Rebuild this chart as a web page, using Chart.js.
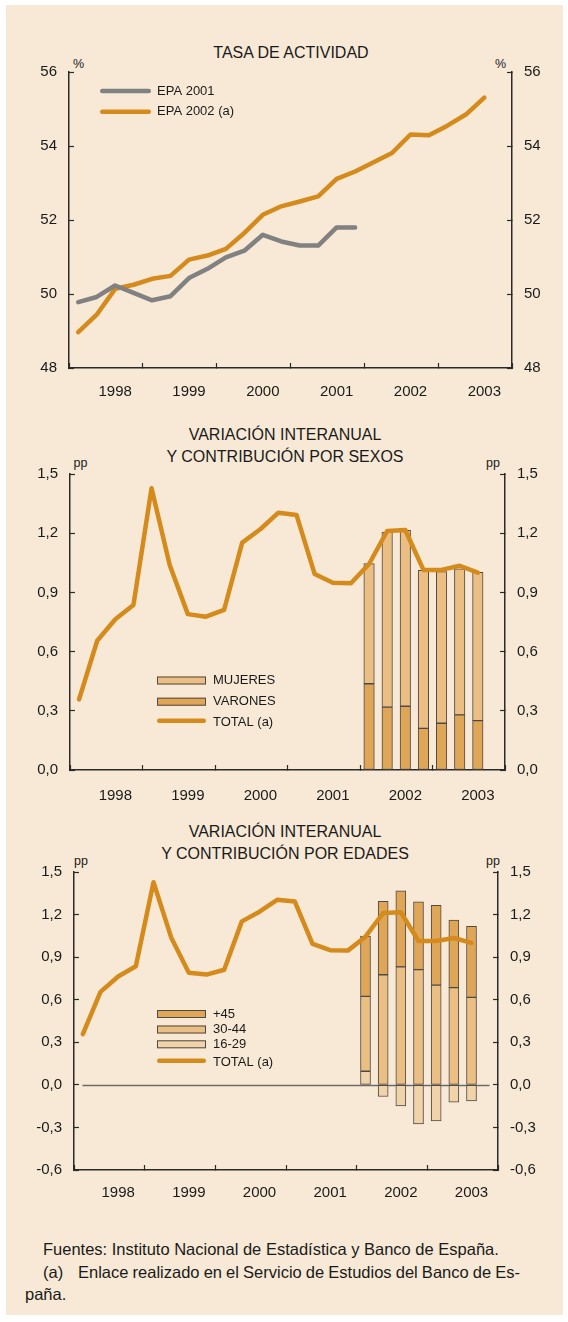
<!DOCTYPE html>
<html><head><meta charset="utf-8">
<script src="https://cdn.jsdelivr.net/npm/chart.js@4/dist/chart.umd.min.js"></script>
<style>
html,body{margin:0;padding:0;background:#fff;}
body{width:568px;height:1322px;position:relative;overflow:hidden;font-family:'Liberation Sans',Arial,Helvetica,sans-serif;color:#1a1a1a;}
#panel{position:absolute;left:6px;top:5px;width:557px;height:1310px;background:#F7E9D6;}
.wrap{position:absolute;left:0;width:568px;}
.t{position:absolute;transform:translate(-50%,-50%);white-space:nowrap;line-height:1;}
.title{font-size:16px;}
.unit{font-size:12.5px;}
#foot{position:absolute;left:25px;top:1238px;width:495px;font-size:16.5px;line-height:22.5px;}
#foot .ind{text-indent:18px;white-space:nowrap;}
</style></head>
<body>
<div id="panel"></div>

<div class="t title" style="left:291px;top:53px">TASA DE ACTIVIDAD</div>
<div class="t unit" style="left:78.5px;top:63.5px">%</div>
<div class="t unit" style="left:500.5px;top:63.5px">%</div>
<div class="wrap" style="top:0;height:408px"><canvas id="c1" width="568" height="408"></canvas></div>

<div class="t title" style="left:285px;top:435px">VARIACIÓN INTERANUAL</div>
<div class="t title" style="left:285px;top:457px">Y CONTRIBUCIÓN POR SEXOS</div>
<div class="t unit" style="left:80.5px;top:463px">pp</div>
<div class="t unit" style="left:493px;top:463px">pp</div>
<div class="wrap" style="top:410px;height:400px"><canvas id="c2" width="568" height="400"></canvas></div>

<div class="t title" style="left:285px;top:832px">VARIACIÓN INTERANUAL</div>
<div class="t title" style="left:285px;top:854px">Y CONTRIBUCIÓN POR EDADES</div>
<div class="t unit" style="left:81px;top:861px">pp</div>
<div class="t unit" style="left:493px;top:861px">pp</div>
<div class="wrap" style="top:810px;height:400px"><canvas id="c3" width="568" height="400"></canvas></div>

<div id="foot">
<div class="ind">Fuentes: Instituto Nacional de Estadística y Banco de España.</div>
<div class="ind"><span style="display:inline-block;width:35px;text-indent:0">(a)</span><span id="l2txt">Enlace realizado en el Servicio de Estudios del Banco de Es-</span></div>
<div>paña.</div>
</div>

<script>
// ---------- DATA ----------
const years = ['1998', '1999', '2000', '2001', '2002', '2003'];
const quarters = [
  '1998 I','1998 II','1998 III','1998 IV',
  '1999 I','1999 II','1999 III','1999 IV',
  '2000 I','2000 II','2000 III','2000 IV',
  '2001 I','2001 II','2001 III','2001 IV',
  '2002 I','2002 II','2002 III','2002 IV',
  '2003 I','2003 II','2003 III'
];
// Tasa de actividad (%)
const epa2001 = [49.78, 49.92, 50.23, 50.03, 49.83, 49.94, 50.43, 50.68, 50.99, 51.17, 51.60, 51.42, 51.31, 51.31, 51.80, 51.80];
const epa2002 = [48.97, 49.44, 50.14, 50.25, 50.41, 50.49, 50.93, 51.04, 51.22, 51.65, 52.14, 52.37, 52.50, 52.64, 53.11, 53.31, 53.56, 53.81, 54.31, 54.29, 54.55, 54.85, 55.31];
// Variación interanual total (pp)
const totalVar = [0.358, 0.655, 0.764, 0.836, 1.428, 1.039, 0.790, 0.777, 0.811, 1.152, 1.220, 1.304, 1.292, 0.993, 0.949, 0.946, 1.044, 1.211, 1.216, 1.014, 1.014, 1.035, 1.000];
// Contributions (2002 I - 2003 III)
const barQuarters = ['2002 I','2002 II','2002 III','2002 IV','2003 I','2003 II','2003 III'];
const varones = [0.437, 0.319, 0.323, 0.211, 0.237, 0.279, 0.250];
const mujeres = [0.609, 0.887, 0.892, 0.801, 0.768, 0.740, 0.752];
const edad16_29 = [0.096, -0.082, -0.148, -0.275, -0.254, -0.122, -0.113];
const edad30_44 = [0.527, 0.776, 0.831, 0.812, 0.703, 0.685, 0.616];
const edad45 = [0.426, 0.518, 0.536, 0.478, 0.563, 0.477, 0.502];

// ---------- STYLE ----------
const FONT = "'Liberation Sans', Arial, Helvetica, sans-serif";
const TXT = '#1a1a1a';
const AXIS = '#2a2a2a';
const ORANGE = '#D58A1C';
const GRAY = '#818181';
const C_DARK = '#E0A657';
const C_MID = '#EBBE83';
const C_LIGHT = '#F1D3AA';
const BAR_BORDER = '#4e4a45';

// justify footnote line 2 to end at x=520
(function () {
  const s = document.getElementById('l2txt');
  const r = s.getBoundingClientRect().right;
  const gaps = (s.textContent.match(/ /g) || []).length;
  s.style.wordSpacing = ((520 - r) / gaps) + 'px';
})();

Chart.defaults.font.family = FONT;
Chart.defaults.color = TXT;
Chart.defaults.animation = false;

const qx = (label) => quarters.indexOf(label) + 0.5;
const seriesPts = (vals) => vals.map((v, i) => ({x: qx(quarters[i]), y: v}));
const barPts = (vals) => vals.map((v, i) => ({x: qx(barQuarters[i]), y: v}));
const fmtPP = (v) => (Math.round(v * 10) / 10).toFixed(1).replace('.', ',').replace('-0,0', '0,0');
const isLabelTick = (v) => Math.abs((v % 4) - 2.5) < 1e-9;

function xScale(pad) {
  return {
    type: 'linear', min: 0, max: years.length * 4, offset: false, stacked: true,
    afterBuildTicks: (s) => {
      const t = [];
      for (let i = 0; i <= years.length; i++) t.push({value: i * 4});
      years.forEach((y, i) => t.push({value: i * 4 + 2.5}));
      t.sort((a, b) => a.value - b.value);
      s.ticks = t;
    },
    ticks: {
      autoSkip: false, maxRotation: 0, padding: pad, color: TXT, font: {size: 15},
      callback: (v) => (isLabelTick(v) ? years[(v - 2.5) / 4] : '')
    },
    grid: {
      drawOnChartArea: false, offset: false, tickLength: -5, tickWidth: 1.2,
      tickColor: (c) => (c.tick && c.tick.value % 4 === 0 ? AXIS : 'rgba(0,0,0,0)')
    },
    border: {display: true, color: AXIS, width: 1.5},
    afterFit: (s) => { s.height = 40; }
  };
}
function yScale(pos, min, max, step, fmt, w, stacked) {
  return {
    type: 'linear', position: pos, min: min, max: max, stacked: !!stacked,
    ticks: {stepSize: step, padding: 17, color: TXT, font: {size: 15}, callback: fmt},
    grid: {drawOnChartArea: false, tickLength: -5, tickWidth: 1.2, tickColor: AXIS},
    border: {display: true, color: AXIS, width: 1.5},
    afterFit: (s) => { s.width = w; }
  };
}

const customLegend = {
  id: 'customLegend',
  afterDatasetsDraw(chart, args, o) {
    const ctx = chart.ctx;
    ctx.save();
    ctx.font = '13px ' + FONT;
    ctx.textBaseline = 'middle';
    o.items.forEach((it) => {
      const ds = chart.data.datasets.find((d) => d.label === it.label);
      const type = ds.type || chart.config.type;
      if (type === 'line') {
        const lw = ds.borderWidth;
        ctx.strokeStyle = ds.borderColor;
        ctx.lineWidth = lw;
        ctx.lineCap = 'round';
        ctx.beginPath();
        ctx.moveTo(o.x0 + lw / 2, it.y);
        ctx.lineTo(o.x1 - lw / 2, it.y);
        ctx.stroke();
      } else {
        ctx.fillStyle = ds.backgroundColor;
        ctx.fillRect(o.x0, it.y - 4, o.x1 - o.x0, 8);
        ctx.strokeStyle = ds.borderColor;
        ctx.lineWidth = 1;
        ctx.strokeRect(o.x0 + 0.5, it.y - 3.5, o.x1 - o.x0 - 1, 7);
      }
      ctx.fillStyle = TXT;
      ctx.fillText(ds.label, o.tx, it.ty !== undefined ? it.ty : it.y);
    });
    ctx.restore();
  }
};
const zeroLine = {
  id: 'zeroLine',
  beforeDatasetsDraw(chart, args, o) {
    const ctx = chart.ctx, a = chart.chartArea;
    const y = Math.round(chart.scales.y.getPixelForValue(0)) + 0.5;
    ctx.save();
    ctx.strokeStyle = o.color;
    ctx.lineWidth = 1.3;
    ctx.beginPath();
    ctx.moveTo(a.left + o.inset, y);
    ctx.lineTo(a.right - o.inset, y);
    ctx.stroke();
    ctx.restore();
  }
};

const lineStyle = (label, vals, color) => ({
  type: 'line', label: label, data: seriesPts(vals), borderColor: color, backgroundColor: color,
  borderWidth: 4.5, pointRadius: 0, tension: 0, fill: false,
  borderCapStyle: 'round', borderJoinStyle: 'round', order: 0, stack: 'line'
});
const barStyle = (label, vals, color, th) => ({
  type: 'bar', label: label, data: barPts(vals), backgroundColor: color,
  borderColor: BAR_BORDER, borderWidth: 1, borderSkipped: false,
  barThickness: th, order: 1, stack: 'bars'
});
const basePlugins = (legendOpts) => ({
  legend: {display: false}, tooltip: {enabled: false}, title: {display: false},
  customLegend: legendOpts
});

// ---------- CHART 1 ----------
new Chart(document.getElementById('c1'), {
  type: 'line',
  data: {datasets: [
    lineStyle('EPA 2001', epa2001, GRAY),
    lineStyle('EPA 2002 (a)', epa2002, ORANGE)
  ]},
  options: {
    responsive: false, devicePixelRatio: 1,
    layout: {padding: {top: 72, left: 0, right: 0, bottom: 0}},
    scales: {
      x: Object.assign(xScale(20), {stacked: false}),
      y: yScale('left', 48, 56, 2, (v) => String(v), 69),
      y2: yScale('right', 48, 56, 2, (v) => String(v), 56)
    },
    plugins: basePlugins({x0: 100, x1: 151, tx: 157, items: [
      {label: 'EPA 2001', y: 91},
      {label: 'EPA 2002 (a)', y: 111.7}
    ]})
  },
  plugins: [customLegend]
});

// ---------- CHART 2 ----------
new Chart(document.getElementById('c2'), {
  type: 'bar',
  data: {datasets: [
    lineStyle('TOTAL (a)', totalVar, ORANGE),
    barStyle('VARONES', varones, C_DARK, 10.5),
    barStyle('MUJERES', mujeres, C_MID, 10.5)
  ]},
  options: {
    responsive: false, devicePixelRatio: 1,
    layout: {padding: {top: 64, left: 0, right: 0, bottom: 0}},
    scales: {
      x: xScale(22),
      y: yScale('left', 0, 1.5, 0.3, fmtPP, 70, true),
      y2: yScale('right', 0, 1.5, 0.3, fmtPP, 63)
    },
    plugins: basePlugins({x0: 157, x1: 206, tx: 213, items: [
      {label: 'MUJERES', y: 270.5},
      {label: 'VARONES', y: 291.7},
      {label: 'TOTAL (a)', y: 310.7, ty: 312.5}
    ]})
  },
  plugins: [customLegend]
});

// ---------- CHART 3 ----------
new Chart(document.getElementById('c3'), {
  type: 'bar',
  data: {datasets: [
    lineStyle('TOTAL (a)', totalVar, ORANGE),
    barStyle('16-29', edad16_29, C_LIGHT, 10),
    barStyle('30-44', edad30_44, C_MID, 10),
    barStyle('+45', edad45, C_DARK, 10)
  ]},
  options: {
    responsive: false, devicePixelRatio: 1,
    layout: {padding: {top: 62, left: 0, right: 0, bottom: 0}},
    scales: {
      x: xScale(19),
      y: yScale('left', -0.6, 1.5, 0.3, fmtPP, 74, true),
      y2: yScale('right', -0.6, 1.5, 0.3, fmtPP, 70)
    },
    plugins: Object.assign(basePlugins({x0: 157, x1: 206, tx: 213, items: [
      {label: '+45', y: 204},
      {label: '30-44', y: 219.5},
      {label: '16-29', y: 234.3},
      {label: 'TOTAL (a)', y: 250.7, ty: 252.5}
    ]}), {zeroLine: {inset: 8.5, color: '#6e6a66'}})
  },
  plugins: [customLegend, zeroLine]
});
</script>
</body></html>
